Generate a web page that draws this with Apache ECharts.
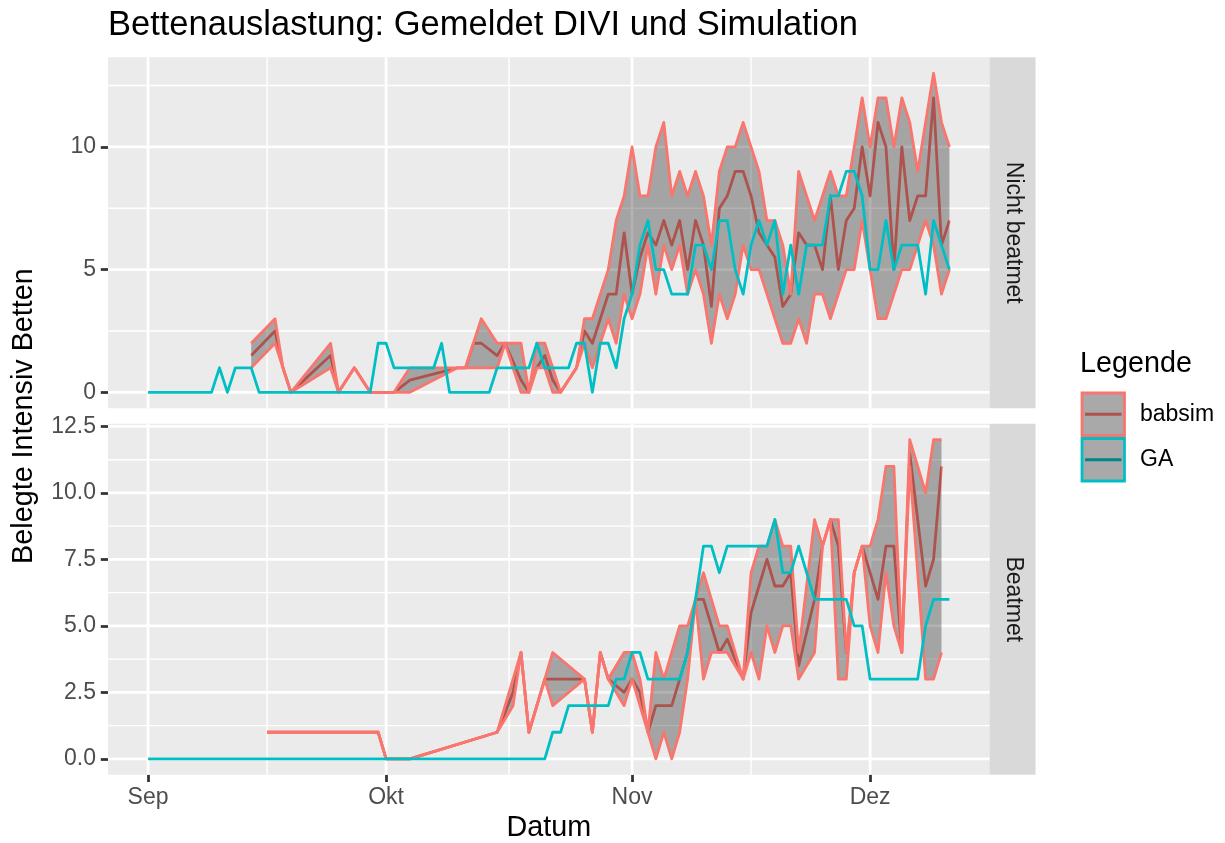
<!DOCTYPE html>
<html><head><meta charset="utf-8">
<script src="https://cdn.jsdelivr.net/npm/echarts@6/dist/echarts.min.js"></script>
<style>html,body{margin:0;padding:0;background:#fff}#c{width:1225px;height:843px}</style>
</head><body><div id="c"></div>
<script>
// ---------- data (days counted from 1 Sep) ----------
const monthTickDays = [0, 30, 61, 91];
const monthTickLabels = ['Sep', 'Okt', 'Nov', 'Dez'];
const monthMinorDays = [15, 45.5, 76];
const panelLabels = ['Nicht beatmet', 'Beatmet'];
const topYTicks = [0, 5, 10];
const topYMinor = [2.5, 7.5, 12.5];
const bottomYTicks = [0, 2.5, 5, 7.5, 10, 12.5];
const bottomYMinor = [1.25, 3.75, 6.25, 8.75, 11.25];
const seriesNames = ['babsim', 'GA'];

// GA (reported DIVI), one value per day from day 0
const gaTop = [
  0,0,0,0,0,0,0,0,0,1,
  0,1,1,1,0,0,0,0,0,0,
  0,0,0,0,0,0,0,0,0,2,
  2,1,1,1,1,1,1,2,0,0,
  0,0,0,0,1,1,1,1,1,2,
  1,1,1,1,2,2,0,2,2,1,
  3,4,6,7,5,5,4,4,4,6,
  6,5,7,7,5,4,6,7,6,7,
  4,6,4,6,6,6,8,8,9,9,
  8,5,5,7,5,6,6,6,4,7,
  6,5
];
const gaBottom = [
  0,0,0,0,0,0,0,0,0,0,
  0,0,0,0,0,0,0,0,0,0,
  0,0,0,0,0,0,0,0,0,0,
  0,0,0,0,0,0,0,0,0,0,
  0,0,0,0,0,0,0,0,0,0,
  0,1,1,2,2,2,2,2,2,3,
  3,4,4,3,3,3,3,3,4,6,
  8,8,7,8,8,8,8,8,8,9,
  7,7,8,7,6,6,6,6,6,5,
  5,3,3,3,3,3,3,3,5,6,
  6,6
];

// babsim simulation: days with data, lower / median / upper
const babsimTopDay  = [13,16,17,18,23,24,26,28,31,33,39,40,41,42,44,45,47,48,49,50,51,52,54,55,56,57,58,59,60,61,62,63,64,65,66,67,68,69,70,71,72,73,74,75,76,77,78,79,80,81,82,83,84,85,86,87,88,89,90,91,92,93,94,95,96,97,98,99,100,101];
const babsimTopLow  = [1,2,1,0,1,0,1,0,0,0,1,1,1,1,1,2,0,0,1,1,0,0,1,2,1,2,3,2,4,3,4,6,4,6,5,6,4,5,4,2,4,3,4,6,5,5,4,3,2,2,3,2,4,4,3,4,5,5,7,5,3,3,4,5,5,6,7,6,4,5];
const babsimTopMed  = [1.5,2.5,1,0,1.5,0,1,0,0,0.5,1,1,2,2,1.5,2,0.5,0,1,1.5,0.5,0,1,2.5,2,3,4,4,6.5,4,5.5,6.5,6,7,6,7,5,7,6,3.5,7.5,8,9,9,8,6.5,6,5.5,3.5,4,6.5,6,6,5,8,5,7,7.5,10,8,11,10,5,10,7,8,8,12,6,7];
const babsimTopHigh = [2,3,1,0,2,0,1,0,0,1,1,1,2,3,2,2,2,0,2,2,1,0,1,3,3,4,5,7,8,10,8,8,10,11,8,9,8,9,8,6,9,10,10,11,10,9,7,7,6,4,9,8,7,8,9,8,8,10,12,10,12,12,10,12,11,9,11,13,11,10];

const babsimBotDay  = [15,29,30,33,44,46,47,48,50,51,55,56,57,58,60,61,62,63,64,65,66,67,68,69,70,71,72,73,75,76,77,78,79,80,81,82,84,85,86,87,88,89,90,91,92,93,94,95,96,98,99,100];
const babsimBotLow  = [1,1,0,0,1,2,4,1,3,2,3,1,4,3,2,3,2,1,0,1,0,1,3,6,3,4,4,4,3,4,3,5,4,5,5,3,4,8,9,3,3,7,8,5,4,7,5,4,11,3,3,4];
const babsimBotMed  = [1,1,0,0,1,2.5,4,1,3,3,3,1,4,3,2.5,3,2.5,1,2,2,2,3,4,6,6,5,4,4.5,3,5.5,6.5,7.5,6.5,6.5,7,3.5,6,8,9,8,4,7,8,7,6,8,8,4,11.5,6.5,7.5,11];
const babsimBotHigh = [1,1,0,0,1,3,4,1,3,4,3,1,4,3,4,4,3,1,4,3,4,5,5,6,7,6,5,5,3,7,8,8,9,8,8,4,9,8,9,9,4,7,8,8,9,11,11,4,12,10,12,12];

// ---------- styling ----------
const FONT = '"Liberation Sans", Arial, Helvetica, sans-serif';
const SALMON = '#F8766D', CYAN = '#00BFC4';
const LW = 2.78;
const PLOT_L = 108, PLOT_W = 881.5, PANEL_H = 351;
const PANEL_TOP = [57.3, 423.8];

function gridLines(idx, xMajor, xMinor, yMajor, yMinor) {
  return {
    type: 'custom', xAxisIndex: idx, yAxisIndex: idx, z: 1, silent: true,
    data: [[0, 0]],
    renderItem: function (params, api) {
      const cs = params.coordSys;
      const L = cs.x, R = cs.x + cs.width, T = cs.y, B = cs.y + cs.height;
      const ch = [];
      const h = (v, w) => { const y = api.coord([0, v])[1]; ch.push({type: 'line', shape: {x1: L, y1: y, x2: R, y2: y}, style: {stroke: '#FFFFFF', lineWidth: w}}); };
      const v = (d, w) => { const x = api.coord([d, 0])[0]; ch.push({type: 'line', shape: {x1: x, y1: T, x2: x, y2: B}, style: {stroke: '#FFFFFF', lineWidth: w}}); };
      yMinor.forEach(a => h(a, LW / 2));
      xMinor.forEach(a => v(a, LW / 2));
      yMajor.forEach(a => h(a, LW));
      xMajor.forEach(a => v(a, LW));
      return {type: 'group', children: ch};
    }
  };
}
function ribbon(idx, days, lo, hi) {
  return {
    type: 'custom', xAxisIndex: idx, yAxisIndex: idx, z: 3, silent: true,
    data: [[days[0], lo[0]]],
    renderItem: function (params, api) {
      const pts = [];
      for (let i = 0; i < days.length; i++) pts.push(api.coord([days[i], hi[i]]));
      for (let i = days.length - 1; i >= 0; i--) pts.push(api.coord([days[i], lo[i]]));
      return {type: 'polygon', shape: {points: pts}, style: {fill: 'rgba(0,0,0,0.3)'}};
    }
  };
}
function line(idx, days, vals, color, z) {
  return {
    type: 'line', xAxisIndex: idx, yAxisIndex: idx, z: z, silent: true,
    data: days.map((d, i) => [d, vals[i]]),
    showSymbol: false, symbol: 'none',
    lineStyle: {color: color, width: LW, join: 'round', cap: 'butt'}
  };
}
const gaDays = gaTop.map((_, i) => i);

const series = [
  gridLines(0, monthTickDays, monthMinorDays, topYTicks, topYMinor),
  gridLines(1, monthTickDays, monthMinorDays, bottomYTicks, bottomYMinor),
  line(0, babsimTopDay, babsimTopMed, SALMON, 2),
  ribbon(0, babsimTopDay, babsimTopLow, babsimTopHigh),
  line(0, babsimTopDay, babsimTopHigh, SALMON, 4),
  line(0, babsimTopDay, babsimTopLow, SALMON, 4),
  line(0, gaDays, gaTop, CYAN, 5),
  line(1, babsimBotDay, babsimBotMed, SALMON, 2),
  ribbon(1, babsimBotDay, babsimBotLow, babsimBotHigh),
  line(1, babsimBotDay, babsimBotHigh, SALMON, 4),
  line(1, babsimBotDay, babsimBotLow, SALMON, 4),
  line(1, gaDays, gaBottom, CYAN, 5)
];

const tickStyle = {color: '#333333', width: LW};
const labelBase = {color: '#4D4D4D', fontSize: 23, fontFamily: FONT};

const option = {
  animation: false,
  grid: PANEL_TOP.map(t => ({left: PLOT_L, top: t, width: PLOT_W, height: PANEL_H, show: true, backgroundColor: '#EBEBEB', borderWidth: 0, containLabel: false})),
  xAxis: [0, 1].map(i => ({
    type: 'value', gridIndex: i, min: -5.05, max: 106.05, position: 'bottom',
    axisLine: {show: false, onZero: false}, splitLine: {show: false}, minorSplitLine: {show: false},
    axisTick: {show: i === 1, customValues: monthTickDays, length: 7.2, lineStyle: tickStyle},
    axisLabel: Object.assign({show: i === 1, customValues: monthTickDays, margin: 11,
      formatter: v => monthTickLabels[monthTickDays.indexOf(v)]}, labelBase)
  })),
  yAxis: [
    {type: 'value', gridIndex: 0, min: -0.65, max: 13.65, position: 'left',
     axisLine: {show: false, onZero: false}, splitLine: {show: false},
     axisTick: {show: true, customValues: topYTicks, length: 7.2, lineStyle: tickStyle},
     axisLabel: Object.assign({customValues: topYTicks, margin: 12, formatter: v => String(v)}, labelBase)},
    {type: 'value', gridIndex: 1, min: -0.6, max: 12.6, position: 'left',
     axisLine: {show: false, onZero: false}, splitLine: {show: false},
     axisTick: {show: true, customValues: bottomYTicks, length: 7.2, lineStyle: tickStyle},
     axisLabel: Object.assign({customValues: bottomYTicks, margin: 12, formatter: v => v.toFixed(1)}, labelBase)}
  ],
  series: series,
  graphic: (function () {
    const g = [];
    const txt = (x, y, s, size, color, rot, align) => ({
      type: 'text', x: x, y: y, rotation: rot || 0, silent: true,
      style: {text: s, font: size + 'px ' + FONT, fill: color,
        align: align || 'center', verticalAlign: 'middle',
        textAlign: align || 'center', textVerticalAlign: 'middle'}
    });
    g.push(txt(108, 25, 'Bettenauslastung: Gemeldet DIVI und Simulation', 34.5, '#000000', 0, 'left'));
    g.push(txt(PLOT_L + PLOT_W / 2, 828, 'Datum', 28.75, '#000000', 0));
    g.push(txt(24.5, (PANEL_TOP[0] + PANEL_TOP[1] + PANEL_H) / 2, 'Belegte Intensiv Betten', 28.75, '#000000', Math.PI / 2));
    PANEL_TOP.forEach((t, i) => {
      g.push({type: 'rect', silent: true, shape: {x: PLOT_L + PLOT_W, y: t, width: 46, height: PANEL_H}, style: {fill: '#D9D9D9'}});
      g.push(txt(PLOT_L + PLOT_W + 23.5, t + PANEL_H / 2, panelLabels[i], 23, '#1A1A1A', -Math.PI / 2));
    });
    // legend
    g.push(txt(1080, 364, 'Legende', 28.75, '#000000', 0, 'left'));
    const keyCol = [SALMON, CYAN];
    [393, 438.5].forEach((y, i) => {
      g.push({type: 'rect', silent: true, shape: {x: 1082, y: y, width: 42.5, height: 42.5}, style: {fill: '#F2F2F2'}});
      g.push({type: 'line', silent: true, shape: {x1: 1085, y1: y + 21.25, x2: 1121.5, y2: y + 21.25}, style: {stroke: keyCol[i], lineWidth: LW}});
      g.push({type: 'rect', silent: true, shape: {x: 1082, y: y, width: 42.5, height: 42.5}, style: {fill: 'rgba(0,0,0,0.3)', stroke: keyCol[i], lineWidth: LW}});
      g.push(txt(1140, y + 21.5, seriesNames[i], 23, '#000000', 0, 'left'));
    });
    return g;
  })()
};

const chart = echarts.init(document.getElementById('c'), null, {renderer: 'canvas'});
chart.setOption(option);
</script>
</body></html>
